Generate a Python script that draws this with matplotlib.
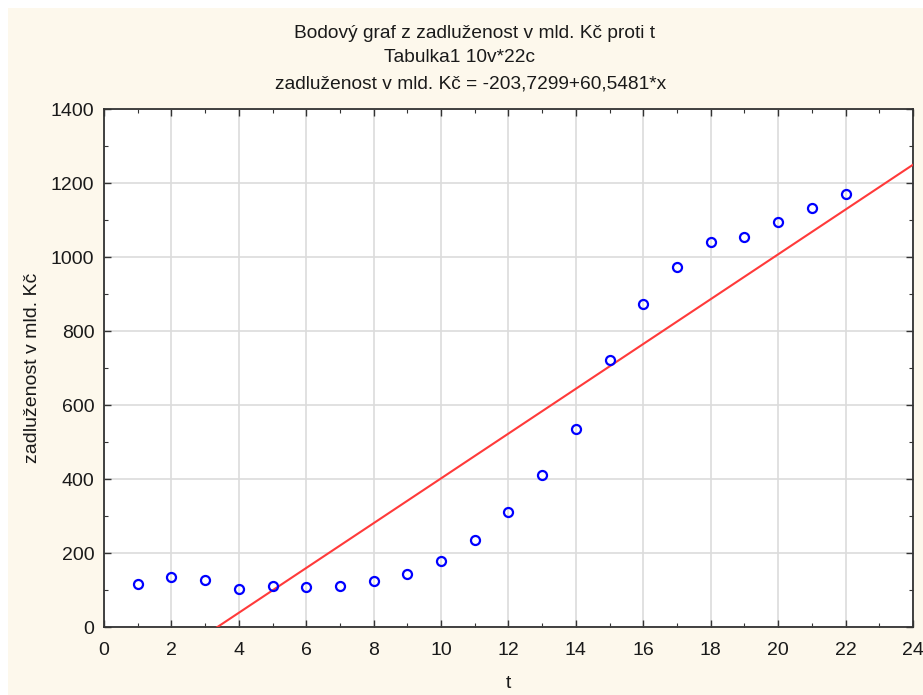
import matplotlib.pyplot as plt
from matplotlib.patches import Rectangle
from matplotlib.ticker import MultipleLocator
import numpy as np

plt.rcParams['font.family'] = ['Liberation Sans', 'DejaVu Sans']

# data
t = [1, 2, 3, 4, 5, 6, 7, 8, 9, 10, 11, 12, 13, 14, 15, 16, 17, 18, 19, 20, 21, 22]
zadluzenost = [116, 135, 127, 103, 111, 108, 111, 124, 143, 178, 235, 311,
               411, 535, 722, 873, 973, 1041, 1054, 1095, 1132, 1170]

# regression coefficients from the title
intercept = -203.7299
slope = 60.5481

fig = plt.figure(figsize=(9.23, 6.95), dpi=100, facecolor='white')
# pale yellow panel, thin white margin on top and left
fig.patches.append(Rectangle((8 / 923, 0), 1, 1 - 8 / 695, transform=fig.transFigure,
                             facecolor='#fdf8ec', edgecolor='none', zorder=-10))

ax = fig.add_axes([104 / 923, 68 / 695, 809 / 923, 518 / 695])
ax.set_facecolor('white')

xs = np.array([0, 24])
ax.plot(xs, intercept + slope * xs, color='#ff3a3a', lw=1.5, zorder=3)
ax.plot(t, zadluzenost, linestyle='none', marker='o', markersize=6.5,
        markerfacecolor='none', markeredgecolor='#0000ff', markeredgewidth=1.6, zorder=4)

ax.set_xlim(0, 24)
ax.set_ylim(0, 1400)
ax.xaxis.set_major_locator(MultipleLocator(2))
ax.xaxis.set_minor_locator(MultipleLocator(1))
ax.yaxis.set_major_locator(MultipleLocator(200))
ax.yaxis.set_minor_locator(MultipleLocator(100))
ax.grid(True, which='major', color='#dcdcdc', lw=1.2, zorder=0)
ax.set_axisbelow(True)
ax.tick_params(which='both', direction='in', top=True, right=True, color='#333333')
ax.tick_params(which='major', length=5, width=1, labelsize=14, pad=7, labelcolor='#1a1a1a')
ax.tick_params(axis='x', which='major', pad=10.5)
ax.tick_params(which='minor', length=3, width=0.8)
for s in ax.spines.values():
    s.set_color('#333333')
    s.set_linewidth(1.3)

ax.set_xlabel('t', fontsize=14, labelpad=12, color='#1a1a1a')
ax.set_ylabel('zadluženost v mld. Kč', fontsize=14, labelpad=7, color='#1a1a1a')

fig.text(474 / 923, 1 - 33 / 695, 'Bodový graf z zadluženost v mld. Kč proti t',
         ha='center', va='center', fontsize=13.8, color='#1a1a1a')
fig.text(460 / 923, 1 - 58 / 695, 'Tabulka1 10v*22c',
         ha='center', va='center', fontsize=13.8, color='#1a1a1a')
fig.text(471 / 923, 1 - 84 / 695, 'zadluženost v mld. Kč = -203,7299+60,5481*x',
         ha='center', va='center', fontsize=13.8, color='#1a1a1a')

plt.savefig('out.png', dpi=100, facecolor=fig.get_facecolor())
